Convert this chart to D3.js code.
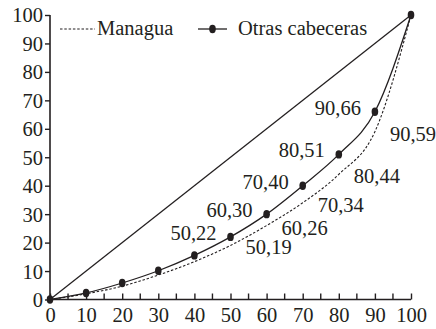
<!DOCTYPE html>
<html>
<head>
<meta charset="utf-8">
<script src="https://cdn.jsdelivr.net/npm/d3@7"></script>
<style>
  html, body { margin: 0; padding: 0; background: #fff; }
  svg text { font-family: "Liberation Serif", "Times New Roman", serif; fill: #231f20; }
</style>
</head>
<body>
<svg id="chart" width="436" height="329"></svg>
<script>
// Cumulative population share (deciles) and cumulative income share
const deciles = [0, 10, 20, 30, 40, 50, 60, 70, 80, 90, 100];
const managua = [0, 2, 4.7, 8.6, 13.3, 19, 26, 34, 44, 59, 100];
const otrasCabeceras = [0, 2.3, 5.8, 10.1, 15.5, 22, 30, 40, 51, 66, 100];
const equality = [0, 100];
const labelledDeciles = [50, 60, 70, 80, 90];
const xTicks = [0, 10, 20, 30, 40, 50, 60, 70, 80, 90, 100];
const xMinorTicks = [5, 15, 25, 35, 45, 55, 65, 75, 85, 95];
const yTicks = [0, 10, 20, 30, 40, 50, 60, 70, 80, 90, 100];
const seriesNames = ["Managua", "Otras cabeceras"];

const svg = d3.select("#chart");
const ink = "#231f20";
const fontSize = 20.5;

const x = d3.scaleLinear().domain([0, 100]).range([50, 411]);
const y = d3.scaleLinear().domain([0, 100]).range([299.5, 15]);

// Y axis: ticks pointing outward
const yAxis = svg.append("g").attr("transform", `translate(${x(0)},0)`)
  .call(d3.axisLeft(y).tickValues(yTicks).tickSize(5).tickPadding(2).tickFormat(d3.format("d")));
yAxis.select(".domain").attr("stroke", ink).attr("stroke-width", 1.6).attr("d", `M0,${y(0)}V${y(100)}`);
yAxis.selectAll(".tick line").attr("stroke", ink).attr("stroke-width", 1.4);
yAxis.selectAll(".tick text").attr("font-size", fontSize).attr("font-family", "Liberation Serif").attr("fill", ink).attr("dy", "0.34em");

// X axis: ticks pointing inward, labels every 10
const xAxis = svg.append("g").attr("transform", `translate(0,${y(0)})`)
  .call(d3.axisBottom(x).tickValues(xTicks).tickSize(-6).tickPadding(8).tickFormat(d3.format("d")));
xAxis.select(".domain").attr("stroke", ink).attr("stroke-width", 1.6).attr("d", `M${x(0)},0H${x(100)}`);
xAxis.selectAll(".tick line").attr("stroke", ink).attr("stroke-width", 1.4);
xAxis.selectAll(".tick text").attr("font-size", fontSize).attr("font-family", "Liberation Serif").attr("fill", ink).attr("dy", "0.72em");
svg.append("g").selectAll("line").data(xMinorTicks).join("line")
  .attr("x1", d => x(d)).attr("x2", d => x(d))
  .attr("y1", y(0)).attr("y2", y(0) - 6)
  .attr("stroke", ink).attr("stroke-width", 1.4);

// Line of perfect equality
svg.append("path")
  .attr("d", d3.line().x(d => x(d)).y(d => y(d))(equality))
  .attr("fill", "none").attr("stroke", ink).attr("stroke-width", 1.3);

const curve = d3.line().x((d, i) => x(deciles[i])).y(d => y(d)).curve(d3.curveMonotoneX);

// Managua: dashed curve
svg.append("path").attr("d", curve(managua))
  .attr("fill", "none").attr("stroke", ink).attr("stroke-width", 1.1)
  .attr("stroke-dasharray", "2.5,1.8");

// Otras cabeceras: solid curve with markers
svg.append("path").attr("d", curve(otrasCabeceras))
  .attr("fill", "none").attr("stroke", ink).attr("stroke-width", 1.3);
svg.append("g").selectAll("ellipse").data(otrasCabeceras).join("ellipse")
  .attr("cx", (d, i) => x(deciles[i])).attr("cy", d => y(d))
  .attr("rx", 3.3).attr("ry", 4.2).attr("fill", ink);

// Value labels "decile,share"
const fmt = (a, b) => `${a},${Math.round(b)}`;
svg.append("g").selectAll("text").data(labelledDeciles).join("text")
  .attr("x", d => x(d) - 14)
  .attr("y", d => y(otrasCabeceras[deciles.indexOf(d)]) + 3)
  .attr("text-anchor", "end").attr("font-size", fontSize)
  .text(d => fmt(d, otrasCabeceras[deciles.indexOf(d)]));
svg.append("g").selectAll("text").data(labelledDeciles).join("text")
  .attr("x", d => x(d) + 15)
  .attr("y", d => y(managua[deciles.indexOf(d)]) + 9)
  .attr("text-anchor", "start").attr("font-size", fontSize)
  .text(d => fmt(d, managua[deciles.indexOf(d)]));

// Legend
const legend = svg.append("g");
legend.append("line").attr("x1", 60).attr("x2", 95).attr("y1", 29).attr("y2", 29)
  .attr("stroke", ink).attr("stroke-width", 1.1).attr("stroke-dasharray", "2.5,1.8");
legend.append("text").attr("x", 97).attr("y", 35).attr("font-size", fontSize).text(seriesNames[0]);
legend.append("line").attr("x1", 198).attr("x2", 227).attr("y1", 29).attr("y2", 29)
  .attr("stroke", ink).attr("stroke-width", 1.3);
legend.append("ellipse").attr("cx", 212.5).attr("cy", 29).attr("rx", 3.3).attr("ry", 4.2).attr("fill", ink);
legend.append("text").attr("x", 238).attr("y", 35).attr("font-size", fontSize).text(seriesNames[1]);
</script>
</body>
</html>
